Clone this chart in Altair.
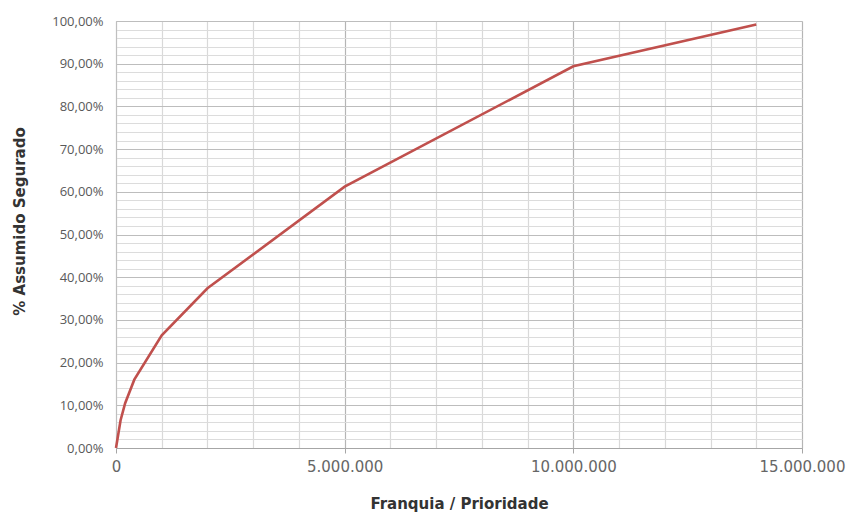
import altair as alt
import pandas as pd

# Data
franquia = [0, 100000, 200000, 400000, 1000000, 2000000, 5000000, 10000000, 14000000]
assumido = [0.0, 0.065, 0.105, 0.16, 0.264, 0.374, 0.612, 0.894, 0.992]

x_ticks = [i * 1000000 for i in range(0, 16)]
y_ticks = [round(i * 0.02, 2) for i in range(0, 51)]

df = pd.DataFrame({"franquia": franquia, "assumido": assumido})

x_major = "datum.value % 5000000 === 0"
y_major = "abs(datum.value * 10 - round(datum.value * 10)) < 0.000001"

chart = alt.Chart(df).mark_line(color="#c0504d", strokeWidth=2.6).encode(
    x=alt.X(
        "franquia:Q",
        scale=alt.Scale(domain=[0, 15000000], nice=False, zero=True),
        axis=alt.Axis(
            values=x_ticks,
            title="Franquia / Prioridade",
            titleFont="DejaVu Sans",
            titleFontSize=15,
            titleFontWeight="bold",
            titleColor="#333333",
            titlePadding=22,
            labelExpr=f"{x_major} ? replace(format(datum.value, ','), regexp(',', 'g'), '.') : ''",
            labelFont="DejaVu Sans",
            labelFontSize=15,
            labelColor="#666666",
            labelPadding=6,
            labelOverlap=False,
            labelFlush=False,
            tickSize=5,
            tickColor=alt.condition(x_major, alt.value("#a6a6a6"), alt.value("transparent")),
            domainColor="#a6a6a6",
            grid=True,
            gridColor=alt.condition(x_major, alt.value("#b5b5b5"), alt.value("#d9d9d9")),
            gridWidth=1.2,
        ),
    ),
    y=alt.Y(
        "assumido:Q",
        scale=alt.Scale(domain=[0, 1], nice=False),
        axis=alt.Axis(
            values=y_ticks,
            title="% Assumido Segurado",
            titleFont="DejaVu Sans",
            titleFontSize=15,
            titleFontWeight="bold",
            titleColor="#333333",
            titlePadding=24,
            titleY=200,
            labelExpr=f"{y_major} ? replace(format(datum.value, '.2%'), '.', ',') : ''",
            labelFont="Open Sans",
            labelFontSize=13,
            labelColor="#595959",
            labelPadding=13,
            labelOverlap=False,
            labelFlush=False,
            ticks=False,
            domainColor="#bfbfbf",
            grid=True,
            gridColor=alt.condition(y_major, alt.value("#bdbdbd"), alt.value("#dcdcdc")),
            gridWidth=1.2,
        ),
    ),
).properties(
    width=686,
    height=427,
    autosize=alt.AutoSizeParams(type="none"),
    padding={"left": 116, "top": 21, "right": 51, "bottom": 66},
).configure_view(
    stroke="#bfbfbf"
).configure(background="white")

chart.save("out.html", embed_options={"renderer": "svg", "actions": False})
